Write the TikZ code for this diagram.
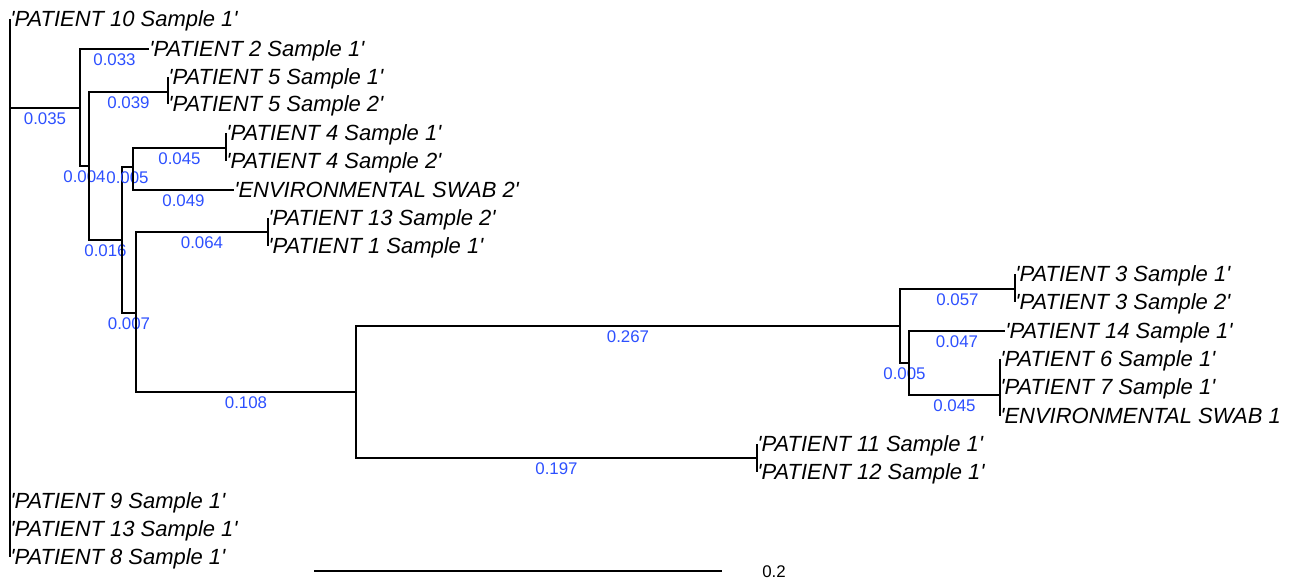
\documentclass[tikz,border=0pt]{standalone}
\usepackage{fontspec}
\setmainfont{Liberation Sans}[Ligatures=TeXOff]
\usepackage{tikz}
\definecolor{lenblue}{RGB}{45,80,255}

\begin{document}
\begin{tikzpicture}[
        x=0.02cm, y=-0.02cm,
        leaf/.style={anchor=west, inner sep=0pt, text height=9pt, text depth=0pt, font=\fontsize{12.5}{14}\selectfont\itshape},
        blen/.style={text=lenblue, inner sep=0pt, yshift=-0.21cm, font=\fontsize{9.6}{11}\selectfont},
        branch/.style={line width=1.35pt}
    ]
%
    \useasboundingbox (0,0) rectangle (1290,583);
%
    % Leaves
    \node[leaf] (p10) at (10,19) {'PATIENT 10 Sample 1'};
    \node[leaf] (p2) at (149,49) {'PATIENT 2 Sample 1'};
    \node[leaf] (p5a) at (168,77) {'PATIENT 5 Sample 1'};
    \node[leaf] (p5b) at (168,104) {'PATIENT 5 Sample 2'};
    \node[leaf] (p4a) at (226,133) {'PATIENT 4 Sample 1'};
    \node[leaf] (p4b) at (226,161) {'PATIENT 4 Sample 2'};
    \node[leaf] (env2) at (234,190) {'ENVIRONMENTAL SWAB 2'};
    \node[leaf] (p13b) at (268,218) {'PATIENT 13 Sample 2'};
    \node[leaf] (p1) at (268,246) {'PATIENT 1 Sample 1'};
    \node[leaf] (p3a) at (1015,274) {'PATIENT 3 Sample 1'};
    \node[leaf] (p3b) at (1015,302) {'PATIENT 3 Sample 2'};
    \node[leaf] (p14) at (1005,331) {'PATIENT 14 Sample 1'};
    \node[leaf] (p6) at (1000,359) {'PATIENT 6 Sample 1'};
    \node[leaf] (p7) at (1000,387) {'PATIENT 7 Sample 1'};
    \node[leaf] (env1) at (1000,416) {'ENVIRONMENTAL SWAB 1};
    \node[leaf] (p11) at (757,444) {'PATIENT 11 Sample 1'};
    \node[leaf] (p12) at (757,472) {'PATIENT 12 Sample 1'};
    \node[leaf] (p9) at (10,501) {'PATIENT 9 Sample 1'};
    \node[leaf] (p13a) at (10,529) {'PATIENT 13 Sample 1'};
    \node[leaf] (p8) at (10,557) {'PATIENT 8 Sample 1'};
%
    % Inner nodes
    \coordinate (r) at (10,108);
    \coordinate (a) at (80,108);
    \coordinate (b) at (89,166);
    \coordinate (c) at (122,240);
    \coordinate (d) at (133,167);
    \coordinate (e) at (136,313);
    \coordinate (f) at (356,392);
    \coordinate (g) at (900,326);
    \coordinate (h) at (909,363);
    \coordinate (t5) at (168,92);
    \coordinate (t4) at (226,148);
    \coordinate (t1) at (268,232);
    \coordinate (t11) at (757,458);
    \coordinate (t3) at (1015,289);
    \coordinate (t6) at (1000,395);
%
    % Ticks
    \draw[branch] (p10.west) -- (p8.west);
    \draw[branch] (p5a.west) -- (p5b.west);
    \draw[branch] (p4a.west) -- (p4b.west);
    \draw[branch] (p13b.west) -- (p1.west);
    \draw[branch] (p3a.west) -- (p3b.west);
    \draw[branch] (p6.west) -- (env1.west);
    \draw[branch] (p11.west) -- (p12.west);
%
    % Branches
    \draw[branch] (r) -- node[blen, midway] {0.035} (a);
    \draw[branch] (a) |- node[blen, pos=0.75] {0.033} (p2.west);
    \draw[branch] (a) |- node[blen, pos=0.75] {0.004} (b);
    \draw[branch] (b) |- node[blen, pos=0.75] {0.039} (t5);
    \draw[branch] (b) |- node[blen, pos=0.75] {0.016} (c);
    \draw[branch] (c) |- node[blen, pos=0.75] {0.005} (d);
    \draw[branch] (c) |- node[blen, pos=0.75] {0.007} (e);
    \draw[branch] (d) |- node[blen, pos=0.75] {0.045} (t4);
    \draw[branch] (d) |- node[blen, pos=0.75] {0.049} (env2.west);
    \draw[branch] (e) |- node[blen, pos=0.75] {0.064} (t1);
    \draw[branch] (e) |- node[blen, pos=0.75] {0.108} (f);
    \draw[branch] (f) |- node[blen, pos=0.75] {0.267} (g);
    \draw[branch] (f) |- node[blen, pos=0.75] {0.197} (t11);
    \draw[branch] (g) |- node[blen, pos=0.75] {0.057} (t3);
    \draw[branch] (g) |- node[blen, pos=0.75] {0.005} (h);
    \draw[branch] (h) |- node[blen, pos=0.75] {0.047} (p14.west);
    \draw[branch] (h) |- node[blen, pos=0.75] {0.045} (t6);
%
    % Scale bar
    \coordinate (sbl) at (314,571);
    \coordinate (sbr) at (722,571);
    \draw[branch] (sbl) -- (sbr);
    \node[inner sep=0pt, font=\fontsize{9.6}{11}\selectfont] (sblab) at (774,572) {0.2};
%
\end{tikzpicture}
\end{document}
